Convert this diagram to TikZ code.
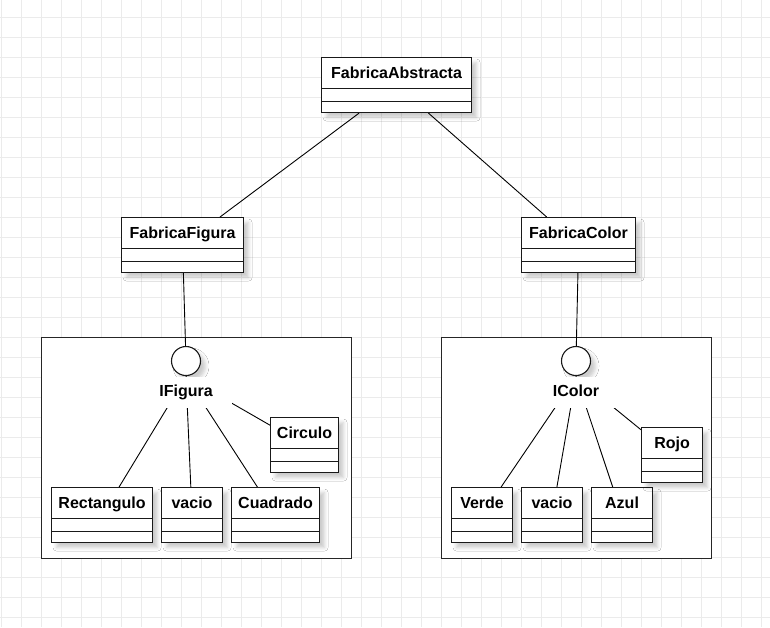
\documentclass[tikz,border=0pt]{standalone}
\usepackage{fontspec}
\setmainfont{Liberation Sans}
\usetikzlibrary{shadows.blur}
\pgfdeclarelayer{fondo}
\pgfdeclarelayer{lineas}
\pgfsetlayers{fondo,lineas,main}

\begin{document}
\begin{tikzpicture}[x=1pt, y=-1pt,
    rejilla/.style={draw=black!8, line width=0.7pt},
    sombra/.style={blur shadow={shadow xshift=5pt, shadow yshift=-5pt, shadow blur radius=3.5pt, shadow opacity=20}},
    clase/.style={draw=black!90, line width=1.1pt, fill=white, anchor=north west, inner sep=0pt, minimum height=55pt,
        text height=20.5pt, text depth=34.5pt, font=\fontsize{16}{19}\selectfont\bfseries, sombra,
        path picture={\draw[draw=black!90, line width=1.1pt]
            ([yshift=-31pt]path picture bounding box.north west) -- ([yshift=-31pt]path picture bounding box.north east)
            ([yshift=-44pt]path picture bounding box.north west) -- ([yshift=-44pt]path picture bounding box.north east);}},
    interfaz/.style={draw=black!90, circle, line width=1.1pt, fill=white, minimum size=29pt, inner sep=0pt, sombra},
    nombre/.style={fill=white, inner sep=0pt, minimum width=92pt, minimum height=31pt,
        text height=11.5pt, text depth=3.5pt, font=\fontsize{16}{19}\selectfont\bfseries},
    paquete/.style={draw=black!85, line width=1pt, fill=white},
    enlace/.style={line width=0.9pt}]
    \useasboundingbox (0,0) rectangle (770,627);

    \node[clase, minimum width=150pt] (fabAbs) at (321,57) {FabricaAbstracta};
    \node[clase, minimum width=122pt] (fabFig) at (121,217) {FabricaFigura};
    \node[clase, minimum width=114pt] (fabCol) at (521,217) {FabricaColor};

    \node[interfaz] (iFig) at (186,361) {};
    \node[nombre] (iFigNom) at (186,392.5) {IFigura};
    \node[clase, minimum width=101pt] (rect) at (51,487) {Rectangulo};
    \node[clase, minimum width=61pt] (vacioFig) at (161,487) {vacio};
    \node[clase, minimum width=88pt] (cuad) at (231,487) {Cuadrado};
    \node[clase, minimum width=68pt] (circ) at (270,417) {Circulo};

    \node[interfaz] (iCol) at (576,361) {};
    \node[nombre] (iColNom) at (576,392.5) {IColor};
    \node[clase, minimum width=61pt] (verde) at (451,487) {Verde};
    \node[clase, minimum width=61pt] (vacioCol) at (521,487) {vacio};
    \node[clase, minimum width=61pt] (azul) at (591,487) {Azul};
    \node[clase, minimum width=61pt] (rojo) at (641,427) {Rojo};

    \begin{pgfonlayer}{fondo}
        \fill[white] (0,0) rectangle (770,627);
        \foreach \x in {1,21,...,761} \draw[rejilla] (\x,0) -- (\x,627);
        \foreach \y in {17,37,...,617} \draw[rejilla] (0,\y) -- (770,\y);
        \draw[paquete] (41,337) rectangle (351,558);
        \draw[paquete] (441,337) rectangle (711,558);
    \end{pgfonlayer}

    \begin{pgfonlayer}{lineas}
        \draw[enlace] (fabAbs) -- (fabFig);
        \draw[enlace] (fabAbs) -- (fabCol);
        \draw[enlace] (fabFig) -- (iFig);
        \draw[enlace] (fabCol) -- (iCol);
        \foreach \c in {rect,vacioFig,cuad,circ} \draw[enlace] (iFigNom.north) -- (\c);
        \foreach \c in {verde,vacioCol,azul,rojo} \draw[enlace] (iColNom.north) -- (\c);
    \end{pgfonlayer}
\end{tikzpicture}
\end{document}
